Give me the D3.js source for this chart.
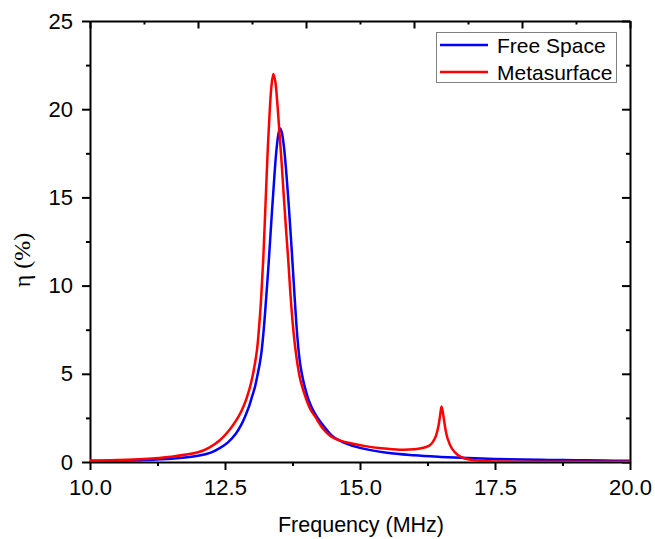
<!DOCTYPE html>
<html>
<head>
<meta charset="utf-8">
<script src="https://cdn.jsdelivr.net/npm/d3@7"></script>
<style>
  html, body { margin: 0; padding: 0; background: #fff; }
  svg { display: block; }
</style>
</head>
<body>
<svg id="chart" width="655" height="539"></svg>
<script>
// ---- Data ----
const freeSpaceFreq = [10.0, 10.5, 11.0, 11.5, 12.0, 12.25, 12.41, 12.55, 12.7, 12.8, 12.87, 12.95, 13.0, 13.05, 13.1, 13.15, 13.18, 13.22, 13.26, 13.3, 13.33, 13.37, 13.41, 13.45, 13.49, 13.52, 13.55, 13.59, 13.63, 13.67, 13.71, 13.74, 13.78, 13.82, 13.86, 13.9, 13.95, 14.0, 14.05, 14.12, 14.2, 14.35, 14.5, 14.7, 15.0, 15.5, 16.0, 16.5, 17.0, 17.5, 18.0, 18.5, 19.0, 19.5, 20.0];
const freeSpaceEta  = [0.05, 0.07, 0.11, 0.18, 0.35, 0.55, 0.8, 1.1, 1.6, 2.1, 2.57, 3.2, 3.7, 4.2, 4.9, 5.7, 6.35, 7.6, 9.2, 10.9, 12.3, 14.2, 16.0, 17.6, 18.6, 18.9, 18.7, 17.9, 16.6, 15.0, 13.2, 11.8, 9.8, 7.9, 6.4, 5.4, 4.6, 4.0, 3.5, 3.0, 2.57, 1.95, 1.44, 1.1, 0.8, 0.52, 0.38, 0.29, 0.22, 0.17, 0.14, 0.12, 0.1, 0.08, 0.07];

const metaFreq = [10.0, 10.5, 11.0, 11.5, 12.0, 12.2, 12.41, 12.55, 12.65, 12.75, 12.85, 12.95, 13.02, 13.09, 13.13, 13.17, 13.21, 13.25, 13.29, 13.33, 13.36, 13.395, 13.43, 13.47, 13.51, 13.55, 13.59, 13.63, 13.67, 13.71, 13.75, 13.8, 13.85, 13.9, 14.0, 14.08, 14.17, 14.3, 14.47, 14.65, 14.85, 15.1, 15.4, 15.74, 16.0, 16.11, 16.22, 16.3, 16.39, 16.45, 16.48, 16.51, 16.54, 16.58, 16.62, 16.7, 16.81, 16.94, 17.13, 17.3, 17.5, 18.0, 19.0, 20.0];
const metaEta  = [0.08, 0.11, 0.17, 0.3, 0.55, 0.8, 1.25, 1.7, 2.1, 2.57, 3.2, 4.1, 5.0, 6.3, 7.6, 9.3, 11.6, 14.6, 17.6, 20.0, 21.3, 22.0, 21.6, 20.3, 18.6, 16.9, 15.0, 13.2, 11.5, 9.6, 8.0, 6.5, 5.4, 4.6, 3.6, 3.0, 2.57, 1.95, 1.44, 1.2, 1.05, 0.9, 0.78, 0.7, 0.72, 0.77, 0.85, 0.96, 1.36, 2.0, 2.57, 3.14, 2.7, 1.9, 1.35, 0.77, 0.4, 0.2, 0.1, 0.05, 0.03, 0.02, 0.02, 0.02];

const xMajorTicks = [10, 12.5, 15, 17.5, 20];
const xMinorTicks = [11.25, 13.75, 16.25, 18.75];
const xTopMajorTicks = [10, 12, 14, 16, 18, 20];
const xTopMinorTicks = [11, 13, 15, 17, 19];
const yMajorTicks = [0, 5, 10, 15, 20, 25];
const yMinorTicks = [2.5, 7.5, 12.5, 17.5, 22.5];

const seriesNames = ["Free Space", "Metasurface"];
const seriesColors = ["#0000ff", "#ff0000"];

// ---- Layout ----
const svg = d3.select("#chart");
const mLeft = 90, mRight = 630, mTop = 21, mBottom = 462;
const sans = "'Liberation Sans', Arial, sans-serif";

const x = d3.scaleLinear().domain([10, 20]).range([mLeft, mRight]);
const y = d3.scaleLinear().domain([0, 25]).range([mBottom, mTop]);

const axisStroke = g => {
  g.select(".domain").attr("stroke", "#000").attr("stroke-width", 2);
  g.selectAll(".tick line").attr("stroke", "#000").attr("stroke-width", 2);
};
const labelStyle = g => g.selectAll("text")
  .style("font-size", "22px").style("font-family", sans).attr("fill", "#000");

// Bottom axis
svg.append("g").attr("transform", `translate(0,${mBottom})`)
  .call(d3.axisBottom(x).tickValues(xMinorTicks).tickSize(4).tickFormat("").tickSizeOuter(0))
  .call(axisStroke).call(g => g.select(".domain").remove());
svg.append("g").attr("transform", `translate(0,${mBottom})`)
  .call(d3.axisBottom(x).tickValues(xMajorTicks).tickSize(8).tickPadding(9).tickSizeOuter(0).tickFormat(d3.format(".1f")))
  .call(axisStroke).call(labelStyle);

// Left axis
svg.append("g").attr("transform", `translate(${mLeft},0)`)
  .call(d3.axisLeft(y).tickValues(yMinorTicks).tickSize(4).tickFormat("").tickSizeOuter(0))
  .call(axisStroke).call(g => g.select(".domain").remove());
svg.append("g").attr("transform", `translate(${mLeft},0)`)
  .call(d3.axisLeft(y).tickValues(yMajorTicks).tickSize(8).tickPadding(9).tickSizeOuter(0).tickFormat(d3.format("d")))
  .call(axisStroke).call(labelStyle);

// Top axis (inward ticks)
svg.append("g").attr("transform", `translate(0,${mTop})`)
  .call(d3.axisBottom(x).tickValues(xTopMinorTicks).tickSize(3.5).tickFormat("").tickSizeOuter(0))
  .call(axisStroke).call(g => g.select(".domain").remove());
svg.append("g").attr("transform", `translate(0,${mTop})`)
  .call(d3.axisBottom(x).tickValues(xTopMajorTicks).tickSize(7.5).tickFormat("").tickSizeOuter(0))
  .call(axisStroke);

// Right axis (inward ticks)
svg.append("g").attr("transform", `translate(${mRight},0)`)
  .call(d3.axisLeft(y).tickValues(yMinorTicks).tickSize(4).tickFormat("").tickSizeOuter(0))
  .call(axisStroke).call(g => g.select(".domain").remove());
svg.append("g").attr("transform", `translate(${mRight},0)`)
  .call(d3.axisLeft(y).tickValues(yMajorTicks).tickSize(8).tickFormat("").tickSizeOuter(0))
  .call(axisStroke);

// Lines
svg.append("clipPath").attr("id", "plotclip").append("rect")
  .attr("x", mLeft).attr("y", mTop).attr("width", mRight - mLeft).attr("height", mBottom - mTop);

const line = d3.line().x(d => x(d[0])).y(d => y(d[1])).curve(d3.curveCatmullRom.alpha(0.5));
const seriesData = [
  d3.zip(freeSpaceFreq, freeSpaceEta),
  d3.zip(metaFreq, metaEta)
];
svg.append("g").attr("clip-path", "url(#plotclip)")
  .selectAll("path").data(seriesData).join("path")
  .attr("d", line)
  .attr("fill", "none")
  .attr("stroke", (d, i) => seriesColors[i])
  .attr("stroke-width", 2.5)
  .attr("stroke-linejoin", "round");

// Axis titles
svg.append("text")
  .attr("x", 361).attr("y", 532)
  .attr("text-anchor", "middle")
  .style("font-size", "21.5px").style("font-family", sans)
  .text("Frequency (MHz)");

svg.append("text")
  .attr("transform", "translate(30,260) rotate(-90)")
  .attr("text-anchor", "middle")
  .style("font-size", "24px")
  .style("font-family", "'Liberation Serif', 'DejaVu Serif', serif")
  .text("η (%)");

// Legend
const legend = svg.append("g");
legend.append("rect")
  .attr("x", 436.5).attr("y", 32.5).attr("width", 180).attr("height", 50)
  .attr("fill", "#fff").attr("stroke", "#808080").attr("stroke-width", 1);
const legendY = [45, 72];
seriesNames.forEach((name, i) => {
  legend.append("line")
    .attr("x1", 440).attr("x2", 488).attr("y1", legendY[i]).attr("y2", legendY[i])
    .attr("stroke", seriesColors[i]).attr("stroke-width", 2.5);
  legend.append("text")
    .attr("x", 497).attr("y", legendY[i]).attr("dy", "0.36em")
    .style("font-size", "21px").style("font-family", sans)
    .text(name);
});
</script>
</body>
</html>
